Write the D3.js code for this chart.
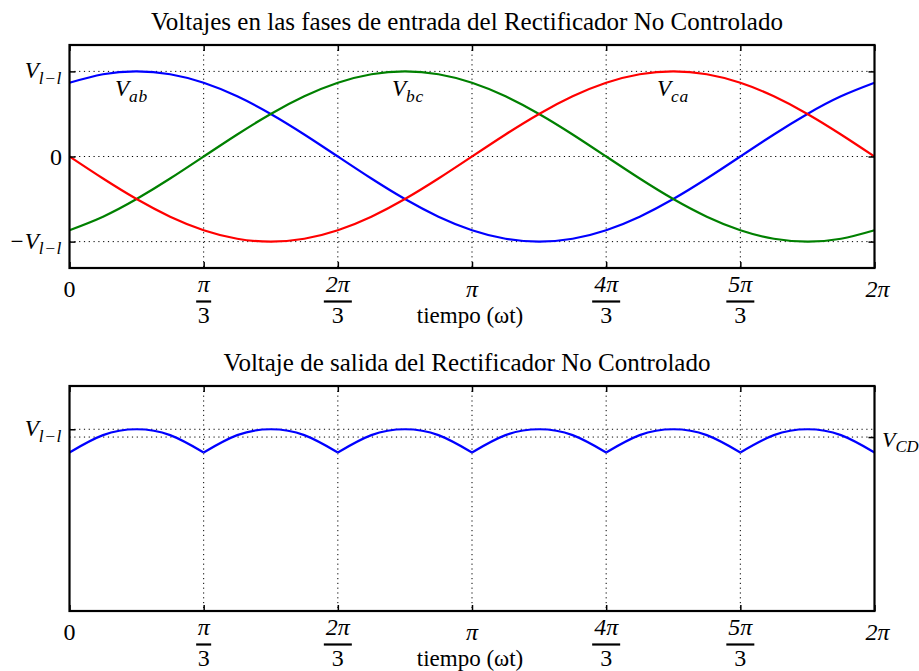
<!DOCTYPE html>
<html>
<head>
<meta charset="utf-8">
<script src="https://cdn.jsdelivr.net/npm/d3@7"></script>
<style>
  html, body { margin: 0; padding: 0; background: #fff; }
  svg { display: block; }
  text { font-family: "Liberation Serif", "DejaVu Serif", serif; fill: #000; }
  .math { font-style: italic; }
</style>
</head>
<body>
<div id="chart"></div>
<script>
// Angle samples (multiples of π/12 rad, i.e. 15°) across one full period.
const anguloPasos = d3.range(0, 25);          // k → ωt = k·π/12

// Line voltages per unit of V_{l-l}, read at each step.
const vAB = [0.866, 0.966, 1, 0.966, 0.866, 0.707, 0.5, 0.259, 0, -0.259, -0.5, -0.707,
             -0.866, -0.966, -1, -0.966, -0.866, -0.707, -0.5, -0.259, 0, 0.259, 0.5, 0.707, 0.866];
const vBC = [-0.866, -0.707, -0.5, -0.259, 0, 0.259, 0.5, 0.707, 0.866, 0.966, 1, 0.966,
             0.866, 0.707, 0.5, 0.259, 0, -0.259, -0.5, -0.707, -0.866, -0.966, -1, -0.966, -0.866];
const vCA = [0, -0.259, -0.5, -0.707, -0.866, -0.966, -1, -0.966, -0.866, -0.707, -0.5, -0.259,
             0, 0.259, 0.5, 0.707, 0.866, 0.966, 1, 0.966, 0.866, 0.707, 0.5, 0.259, 0];

// Rectifier output (six-pulse ripple) at the same steps.
const vSalida = [0.866, 0.966, 1, 0.966, 0.866, 0.966, 1, 0.966, 0.866, 0.966, 1, 0.966,
                 0.866, 0.966, 1, 0.966, 0.866, 0.966, 1, 0.966, 0.866, 0.966, 1, 0.966, 0.866];
// Mean DC level V_CD per unit of V_{l-l}.
const vCD = 0.955;

// x tick positions (multiples of π/3) and their labels.
const xTicksK = [0, 1, 2, 3, 4, 5, 6];
const xTickLabels = [
  { num: "0" }, { num: "π", den: "3" }, { num: "2π", den: "3" }, { num: "π" },
  { num: "4π", den: "3" }, { num: "5π", den: "3" }, { num: "2π" }
];

const titles = [
  "Voltajes en las fases de entrada del Rectificador No Controlado",
  "Voltaje de salida del Rectificador No Controlado"
];

const W = 919, H = 671;
const svg = d3.select("#chart").append("svg").attr("width", W).attr("height", H);

const x = d3.scaleLinear().domain([0, 2 * Math.PI]).range([69.5, 874.5]);
const ang = k => k * Math.PI / 12;

function vLabel(g, xPos, yPos, prefix, sub, size, anchor, spacing) {
  const t = g.append("text").attr("class", "math").attr("x", xPos).attr("y", yPos)
    .attr("font-size", size).attr("text-anchor", anchor || "start");
  t.append("tspan").text(prefix + "V");
  t.append("tspan").attr("font-size", size * 0.76).attr("dy", size * 0.24)
    .attr("letter-spacing", spacing === undefined ? 0.6 : spacing).text(sub);
  return t;
}

function drawPanel(top, bottom, yDomain, opts) {
  const y = d3.scaleLinear().domain(yDomain).range([bottom, top]);
  const g = svg.append("g");
  const [x0, x1] = x.range();

  // dotted grid
  const grid = g.append("g").attr("stroke", "#000").attr("stroke-width", 1)
    .attr("stroke-dasharray", "1.2,3.6");
  xTicksK.forEach(k => {
    grid.append("line").attr("x1", x(k * Math.PI / 3)).attr("x2", x(k * Math.PI / 3))
      .attr("y1", top).attr("y2", bottom);
  });
  opts.gridY.forEach(v => {
    grid.append("line").attr("x1", x0).attr("x2", x1).attr("y1", y(v)).attr("y2", y(v));
  });

  // series
  const line = d3.line().x(d => x(d[0])).y(d => y(d[1])).curve(d3.curveNatural);
  opts.series.forEach(s => {
    s.segments.forEach(seg => {
      g.append("path").datum(seg).attr("d", line).attr("fill", "none")
        .attr("stroke", s.color).attr("stroke-width", 2.2).attr("stroke-linejoin", "round");
    });
  });

  // ticks pointing inward on all sides
  const tickVals = xTicksK.map(k => k * Math.PI / 3);
  const ax = g.append("g").attr("class", "axes");
  ax.append("g").attr("transform", `translate(0,${bottom})`)
    .call(d3.axisBottom(x).tickValues(tickVals).tickSize(-6).tickFormat(""));
  ax.append("g").attr("transform", `translate(0,${top})`)
    .call(d3.axisTop(x).tickValues(tickVals).tickSize(-6).tickFormat(""));
  ax.append("g").attr("transform", `translate(${x0},0)`)
    .call(d3.axisLeft(y).tickValues(opts.leftTicks).tickSize(-6).tickFormat(""));
  ax.append("g").attr("transform", `translate(${x1},0)`)
    .call(d3.axisRight(y).tickValues(opts.rightTicks).tickSize(-6).tickFormat(""));
  ax.selectAll(".domain").remove();
  ax.selectAll(".tick line").attr("stroke", "#000").attr("stroke-width", 1.5);

  // frame
  g.append("rect").attr("x", x0).attr("y", top).attr("width", x1 - x0).attr("height", bottom - top)
    .attr("fill", "none").attr("stroke", "#000").attr("stroke-width", 2.2);

  // title
  g.append("text").attr("x", (x0 + x1) / 2 - 5).attr("y", top - 15).attr("text-anchor", "middle")
    .attr("font-size", 25).text(opts.title);

  // x tick labels
  xTicksK.forEach((k, i) => {
    const cx = x(k * Math.PI / 3), lab = xTickLabels[i];
    if (lab.den) {
      g.append("text").attr("class", "math").attr("x", cx).attr("y", bottom + 24)
        .attr("text-anchor", "middle").attr("font-size", 24).text(lab.num);
      const bw = lab.num.length > 1 ? 28 : 15;
      g.append("line").attr("x1", cx - bw / 2).attr("x2", cx + bw / 2)
        .attr("y1", bottom + 33.5).attr("y2", bottom + 33.5).attr("stroke", "#000").attr("stroke-width", 2.2);
      g.append("text").attr("x", cx).attr("y", bottom + 55)
        .attr("text-anchor", "middle").attr("font-size", 24).text(lab.den);
    } else {
      g.append("text").attr("class", lab.num === "0" ? null : "math")
        .attr("x", cx + (k === 6 ? 3 : 0)).attr("y", bottom + 29)
        .attr("text-anchor", "middle").attr("font-size", 24).text(lab.num);
    }
  });

  g.append("text").attr("x", x(Math.PI) - 2).attr("y", bottom + 55).attr("text-anchor", "middle")
    .attr("font-size", 23).text("tiempo (ωt)");

  return { g, y };
}

// ---- top panel: input line voltages ----
const pts = arr => anguloPasos.map(k => [ang(k), arr[k]]);
const p1 = drawPanel(45, 268, [-1.31, 1.31], {
  title: titles[0],
  gridY: [-1, 0, 1],
  leftTicks: [-1, 0, 1],
  rightTicks: [-1, 0, 1],
  series: [
    { color: "#0000ff", segments: [pts(vAB)] },
    { color: "#008000", segments: [pts(vBC)] },
    { color: "#ff0000", segments: [pts(vCA)] }
  ]
});
// y labels
vLabel(p1.g, 62, p1.y(1) + 7, "", "l−l", 23, "end");
p1.g.append("text").attr("x", 62).attr("y", p1.y(0) + 8).attr("text-anchor", "end")
  .attr("font-size", 24).text("0");
vLabel(p1.g, 62, p1.y(-1) + 7, "−", "l−l", 23, "end");
// curve names
vLabel(p1.g, 115, 96, "", "ab", 23);
vLabel(p1.g, 392, 96, "", "bc", 23);
vLabel(p1.g, 657, 96, "", "ca", 23);

// ---- bottom panel: rectified output ----
const salidaPts = pts(vSalida);
const arcos = d3.range(0, 6).map(i => salidaPts.slice(i * 4, i * 4 + 5));
const p2 = drawPanel(386, 611, [-0.05, 1.25], {
  title: titles[1],
  gridY: [1, vCD],
  leftTicks: [1],
  rightTicks: [vCD],
  series: [{ color: "#0000ff", segments: arcos }]
});
vLabel(p2.g, 62, p2.y(1) + 7, "", "l−l", 23, "end");
vLabel(p2.g, 882, p2.y(vCD) + 10, "", "CD", 22, "start", 0);
</script>
</body>
</html>
